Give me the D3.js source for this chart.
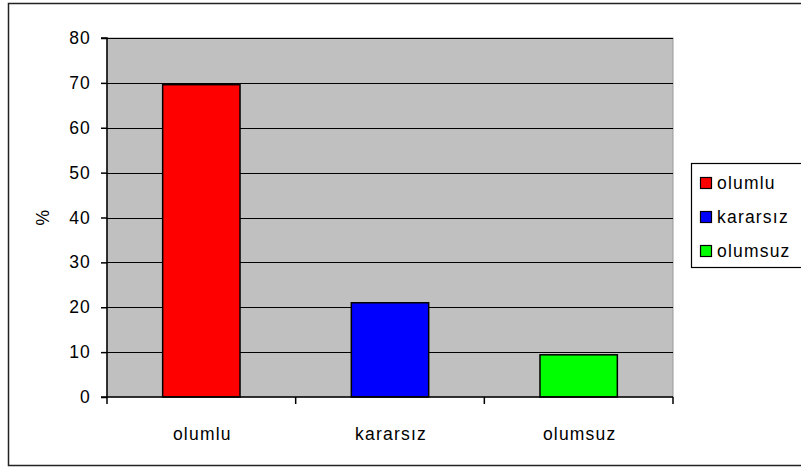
<!DOCTYPE html>
<html><head><meta charset="utf-8">
<script src="https://cdn.jsdelivr.net/npm/d3@7"></script>
<style>body{margin:0;background:#fff}svg{display:block}text{font-family:"Liberation Sans",Arial,sans-serif;letter-spacing:1.2px}</style>
</head><body>
<svg id="c" width="801" height="468"></svg>
<script>
const categories = ["olumlu", "kararsız", "olumsuz"];
const values = [69.6, 21.0, 9.4];
const colors = ["#FF0000", "#0000FF", "#00FF00"];
const yTicks = [0, 10, 20, 30, 40, 50, 60, 70, 80];
const yLabel = "%";

const FS = 17.5;
const svg = d3.select("#c");
svg.append("rect").attr("x", 8.5).attr("y", 3.5).attr("width", 800).attr("height", 462)
  .attr("fill", "#fff").attr("stroke", "#222").attr("stroke-width", 1.5);

const L = 107, R = 673, T = 38, B = 397;
const x = d3.scaleBand().domain(categories).range([L, R]).paddingInner(0.59).paddingOuter(0.295);
const y = d3.scaleLinear().domain([0, 80]).range([B, T]);

svg.append("rect").attr("x", L).attr("y", T).attr("width", R - L).attr("height", B - T)
  .attr("fill", "#C0C0C0").attr("stroke", "#999").attr("stroke-width", 1);

svg.append("g").selectAll("line").data(yTicks.filter(d => d > 0)).join("line")
  .attr("x1", L).attr("x2", R).attr("y1", d => Math.round(y(d)) + 0.5).attr("y2", d => Math.round(y(d)) + 0.5)
  .attr("stroke", "#000").attr("stroke-width", 1.2);

svg.append("g").selectAll("rect").data(values).join("rect")
  .attr("x", (d, i) => x(categories[i]))
  .attr("y", d => y(d))
  .attr("width", x.bandwidth())
  .attr("height", d => B - y(d))
  .attr("fill", (d, i) => colors[i])
  .attr("stroke", "#000").attr("stroke-width", 1.5);

const yAxis = d3.axisLeft(y).tickValues(yTicks).tickSize(6).tickPadding(10);
const gy = svg.append("g").attr("transform", `translate(${L},0)`).call(yAxis);
gy.select(".domain").attr("stroke", "#000").attr("stroke-width", 1.5).attr("d", `M-6,${T}H0V${B}`);
gy.selectAll(".tick line").attr("stroke", "#000").attr("stroke-width", 1.5);
gy.selectAll(".tick text").attr("font-size", FS).attr("fill", "#000")
  .attr("font-family", "'Liberation Sans', Arial, sans-serif");

const xEdges = d3.scaleLinear().domain([0, categories.length]).range([L, R]);
const gx = svg.append("g");
gx.append("line").attr("x1", L - 6).attr("x2", R).attr("y1", B).attr("y2", B).attr("stroke", "#000").attr("stroke-width", 1.5);
gx.selectAll("line.t").data(d3.range(categories.length + 1)).join("line").attr("class", "t")
  .attr("x1", d => xEdges(d)).attr("x2", d => xEdges(d)).attr("y1", B).attr("y2", B + 7)
  .attr("stroke", "#000").attr("stroke-width", 1.5);
gx.selectAll("text").data(categories).join("text")
  .attr("x", d => x(d) + x.bandwidth() / 2 + 1).attr("y", 440)
  .attr("text-anchor", "middle").attr("font-size", FS).attr("fill", "#000").text(d => d);

svg.append("text").attr("transform", "translate(49,217) rotate(-90)")
  .attr("text-anchor", "middle").attr("font-size", FS).text(yLabel);

const lg = svg.append("g");
lg.append("rect").attr("x", 691.5).attr("y", 163.5).attr("width", 115).attr("height", 104)
  .attr("fill", "#fff").attr("stroke", "#000").attr("stroke-width", 1.2);
const ly = d3.scalePoint().domain(categories).range([183, 251]);
categories.forEach((c, i) => {
  lg.append("rect").attr("x", 700.5).attr("y", ly(c) - 5.5).attr("width", 11).attr("height", 11)
    .attr("fill", colors[i]).attr("stroke", "#000").attr("stroke-width", 1.2);
  lg.append("text").attr("x", 717).attr("y", ly(c) + 6).attr("font-size", FS).text(c);
});
</script>
</body></html>
